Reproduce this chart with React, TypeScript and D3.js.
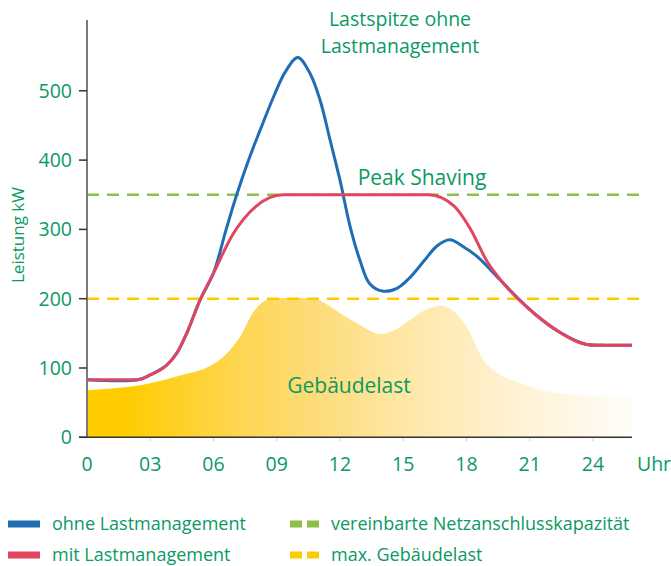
import React from "react";
import * as d3 from "d3";

const hoursRed = [0, 2.4, 3.0, 3.78, 4.25, 4.73, 5.36, 6.0, 6.9, 8.0, 9.3, 12, 16.2, 17.4, 18.2, 18.95, 19.9, 21.2, 22.4, 23.7, 24.5, 25.85];
const mitLast = [83, 83, 90, 104, 121, 150, 198, 237, 292, 333, 350, 350, 350, 334, 300, 255, 217, 179, 152, 134, 133, 133];

const hoursBlue = [0, 2.4, 3.0, 3.78, 4.25, 4.73, 5.36, 6.0, 6.6, 7.1, 7.7, 8.3, 8.9, 9.4, 10.0, 10.58, 11.05, 11.53, 12.0, 12.48, 12.95, 13.4, 14.0, 14.7, 15.3, 16.0, 16.6, 17.2, 17.85, 18.5, 19.6, 20.2, 21.2, 22.4, 23.7, 24.5, 25.85];
const ohneLast = [83, 83, 90, 104, 121, 150, 198, 237, 300, 350, 403, 450, 495, 527, 548, 525, 487, 429, 371, 304, 255, 222, 211, 215, 230, 255, 276, 285, 275, 261, 227, 208, 179, 152, 134, 133, 133];

const hoursArea = [0, 1, 2.83, 4.5, 5.84, 6.6, 7.26, 7.9, 8.5, 9.0, 10.7, 11.3, 12.16, 12.95, 13.9, 14.6, 15.3, 16.0, 16.75, 17.4, 18.0, 18.8, 19.6, 20.4, 21.2, 23.2, 25.85];
const gebaeudelast = [68, 70, 77, 90, 103, 120, 145, 181, 198, 201, 201, 193, 176, 162, 149, 155, 169, 183, 190, 182, 160, 112, 90, 80, 71, 61, 58];

const netzKapazitaet = 350;
const maxGebaeude = 200;

const yTicks = [0, 100, 200, 300, 400, 500];
const xTickHours = [0, 3, 6, 9, 12, 15, 18, 21, 24];
const xTickLabels = ["0", "03", "06", "09", "12", "15", "18", "21", "24"];

const legendItems = [
  { label: "ohne Lastmanagement", color: "#1f6eb5", dashed: false },
  { label: "mit Lastmanagement", color: "#e2455f", dashed: false },
  { label: "vereinbarte Netzanschlusskapazität", color: "#8dc04a", dashed: true },
  { label: "max. Gebäudelast", color: "#fccb00", dashed: true },
];

const GREEN = "#0a9a62";
const FONT = "'Open Sans', sans-serif";

export default function App() {
  const x = d3.scaleLinear().domain([0, 25.85]).range([87, 632]);
  const y = d3.scaleLinear().domain([0, 600]).range([437.3, 21.5]);

  const redLine = d3.line<[number, number]>().x((d) => x(d[0])).y((d) => y(d[1])).curve(d3.curveMonotoneX);
  const blueLine = d3.line<[number, number]>().x((d) => x(d[0])).y((d) => y(d[1])).curve(d3.curveCatmullRom.alpha(0.5));
  const area = d3.area<[number, number]>().x((d) => x(d[0])).y0(y(0)).y1((d) => y(d[1])).curve(d3.curveMonotoneX);

  const redPts = hoursRed.map((h, i) => [h, mitLast[i]] as [number, number]);
  const bluePts = hoursBlue.map((h, i) => [h, ohneLast[i]] as [number, number]);
  const areaPts = hoursArea.map((h, i) => [h, gebaeudelast[i]] as [number, number]);

  return (
    <svg width={671} height={566} style={{ position: "absolute", left: 0, top: 0 }} fontFamily={FONT}>
      <defs>
        <linearGradient id="areaGrad" x1={x(0)} x2={x(25.85)} y1={0} y2={0} gradientUnits="userSpaceOnUse">
          <stop offset="0" stopColor="#ffcc00" />
          <stop offset="0.07" stopColor="#ffcc00" />
          <stop offset="0.28" stopColor="#fed652" />
          <stop offset="0.42" stopColor="#fddc7a" />
          <stop offset="0.6" stopColor="#ffe8ab" />
          <stop offset="0.78" stopColor="#fff2d3" />
          <stop offset="1" stopColor="#fffdf8" />
        </linearGradient>
      </defs>

      <path d={area(areaPts) || ""} fill="url(#areaGrad)" />

      {/* reference lines */}
      <line x1={x(0)} x2={640} y1={y(netzKapazitaet)} y2={y(netzKapazitaet)} stroke="#8dc04a" strokeWidth={2.5} strokeDasharray="12 8" />
      <line x1={x(0)} x2={640} y1={y(maxGebaeude)} y2={y(maxGebaeude)} stroke="#fccb00" strokeWidth={2.5} strokeDasharray="12 8" />

      {/* axes */}
      <line x1={87} x2={87} y1={20} y2={y(0)} stroke="#7a7a7a" strokeWidth={2} />
      <line x1={79} x2={632} y1={y(0)} y2={y(0)} stroke="#333" strokeWidth={1.5} />
      {xTickHours.slice(1).map((h) => (
        <line key={"xt" + h} x1={x(h)} x2={x(h)} y1={y(0) + 1} y2={y(0) + 4} stroke="#ccc" strokeWidth={1} />
      ))}
      {yTicks.map((t) => (
        <g key={"yt" + t}>
          <line x1={79} x2={87} y1={y(t)} y2={y(t)} stroke="#333" strokeWidth={1.5} />
          <text x={72} y={y(t)} dy="0.36em" textAnchor="end" fill={GREEN} fontSize={19.5} fontWeight={500}>
            {t}
          </text>
        </g>
      ))}
      {xTickHours.map((h, i) => (
        <text key={"xl" + h} x={x(h)} y={471} textAnchor="middle" fill={GREEN} fontSize={19.5} fontWeight={500}>
          {xTickLabels[i]}
        </text>
      ))}
      <text x={654} y={471} textAnchor="middle" fill={GREEN} fontSize={19.5} fontWeight={500}>Uhr</text>
      <text transform={`translate(24,235) rotate(-90)`} textAnchor="middle" fill={GREEN} fontSize={17} fontWeight={500}>
        Leistung kW
      </text>

      {/* lines */}
      <path d={blueLine(bluePts) || ""} fill="none" stroke="#1f6eb5" strokeWidth={3} />
      <path d={redLine(redPts) || ""} fill="none" stroke="#e2455f" strokeWidth={3} />

      {/* annotations */}
      <text textAnchor="middle" fill={GREEN} fontSize={19.5} fontWeight={500}>
        <tspan x={400} y={26}>Lastspitze ohne</tspan>
        <tspan x={400} y={53}>Lastmanagement</tspan>
      </text>
      <text x={422} y={185} textAnchor="middle" fill={GREEN} fontSize={21} fontWeight={500}>Peak Shaving</text>
      <text x={349} y={393} textAnchor="middle" fill={GREEN} fontSize={21} fontWeight={500}>Gebäudelast</text>

      {/* legend */}
      {legendItems.map((it, i) => {
        const col = i < 2 ? 0 : 1;
        const row = i % 2;
        const sx = col === 0 ? 8 : 290;
        const cy = row === 0 ? 524 : 555;
        return (
          <g key={it.label}>
            {it.dashed ? (
              <>
                <rect x={sx} y={cy - 3.5} width={12} height={7} fill={it.color} />
                <rect x={sx + 17} y={cy - 3.5} width={12} height={7} fill={it.color} />
              </>
            ) : (
              <rect x={sx} y={cy - 3.5} width={32} height={7} fill={it.color} />
            )}
            <text x={col === 0 ? 52 : 331} y={cy} dy="0.35em" fill={GREEN} fontSize={18}>
              {it.label}
            </text>
          </g>
        );
      })}
    </svg>
  );
}
